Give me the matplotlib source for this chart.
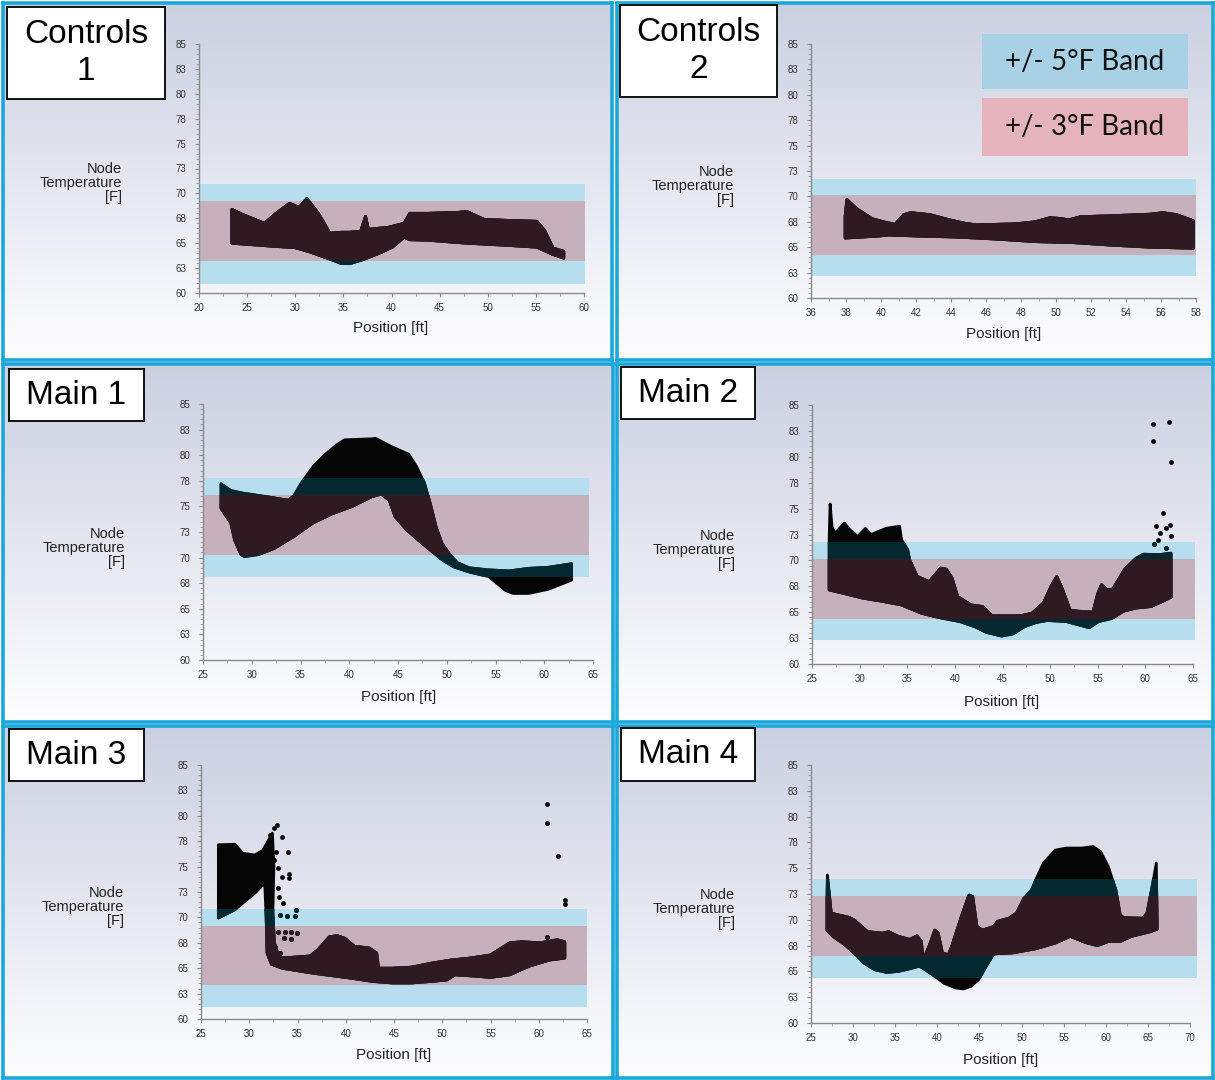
"""
Node temperature vs position for the six zones,
with the +/- 5F and +/- 3F comfort bands
"""

import numpy as np
import matplotlib.pyplot as plt
from matplotlib.patches import Rectangle

W, H = 1215, 1080

# ---- data (upper / lower edge of each point cloud) ----
titles = ["Controls\n1", "Controls\n2", "Main 1", "Main 2", "Main 3", "Main 4"]

c1_top_x = [23.4, 24.5, 26.8, 28.0, 29.4, 30.4, 31.2, 32.4, 33.6, 34.8, 35.7, 36.8, 37.3, 37.6,
            39.7, 41.3, 41.9, 43.8, 47.0, 47.8, 49.6, 51.8, 55.1, 55.9, 56.8, 57.9]
c1_top_t = [68.4, 67.9, 67.0, 68.0, 69.0, 68.6, 69.5, 68.0, 66.0, 66.1, 66.1, 66.2, 67.7, 66.4,
            66.6, 67.0, 68.0, 68.0, 68.1, 68.2, 67.4, 67.3, 67.2, 66.3, 64.5, 64.2]
c1_bot_x = [23.4, 27.6, 30.0, 31.6, 33.6, 34.8, 35.7, 36.9, 38.5, 40.1, 41.3, 41.9, 43.8, 47.8,
            51.8, 55.1, 56.7, 57.9]
c1_bot_t = [65.0, 64.7, 64.55, 64.1, 63.4, 62.95, 62.95, 63.3, 63.9, 64.6, 65.6, 65.35, 65.3, 65.0,
            64.8, 64.6, 63.9, 63.5]

c2_top_x = [37.95, 38.05, 38.6, 39.5, 40.15, 40.8, 41.3, 41.7, 42.8, 43.9, 44.8, 45.45, 47.7, 48.8,
            49.65, 50.1, 50.75, 51.4, 53.2, 55.4, 56.1, 56.9, 57.85]
c2_top_t = [68.0, 69.7, 68.8, 67.8, 67.5, 67.25, 68.2, 68.4, 68.2, 67.7, 67.35, 67.2, 67.3, 67.5,
            67.9, 67.85, 67.7, 68.0, 68.1, 68.25, 68.4, 68.2, 67.6]
c2_bot_x = [37.95, 39.9, 40.4, 42.1, 44.3, 46.6, 48.8, 51.0, 53.2, 55.4, 57.85]
c2_bot_t = [65.9, 66.1, 66.2, 66.1, 66.0, 65.8, 65.55, 65.45, 65.2, 65.0, 64.9]

m1_top_x = [26.85, 27.85, 29.05, 31.5, 33.7, 34.3, 35.1, 36.3, 37.5, 38.7, 39.5, 42.3, 42.7, 44.3,
            46.1, 46.9, 47.7, 48.3, 48.9, 49.5, 50.3, 51.1, 52.3, 54.3, 56.4, 58.4, 60.4, 62.8]
m1_top_t = [77.2, 76.55, 76.3, 75.95, 75.6, 76.0, 77.3, 78.9, 80.05, 81.0, 81.5, 81.6, 81.65, 80.85,
            80.1, 78.9, 77.3, 75.3, 73.0, 71.4, 70.3, 69.5, 69.0, 68.8, 68.7, 68.95, 69.05, 69.4]
m1_bot_x = [26.85, 27.85, 28.25, 28.9, 29.25, 30.7, 32.3, 34.3, 36.3, 38.3, 40.3, 42.3, 43.3, 44.1,
            44.7, 45.9, 47.1, 48.3, 49.5, 50.7, 52.3, 54.3, 56.0, 56.8, 58.4, 60.4, 62.8]
m1_bot_t = [74.8, 73.4, 71.7, 70.3, 70.1, 70.3, 70.9, 72.05, 73.4, 74.3, 75.0, 75.95, 76.2, 75.6,
            74.0, 72.7, 71.7, 70.75, 69.8, 69.1, 68.6, 68.15, 66.8, 66.5, 66.5, 66.9, 67.8]

m2_top_x = [26.8, 26.9, 27.1, 27.4, 28.4, 29.0, 29.8, 30.6, 31.2, 32.0, 32.8, 34.2, 34.4, 35.05,
            35.25, 36.05, 37.3, 38.5, 39.1, 39.7, 40.3, 41.7, 42.9, 43.9, 46.9, 48.1, 49.3, 50.1,
            50.7, 51.3, 52.1, 52.9, 54.5, 55.0, 55.4, 55.95, 56.55, 57.8, 59.0, 59.8, 61.4, 62.7]
m2_top_t = [72.0, 75.45, 73.3, 72.6, 73.6, 72.95, 72.3, 73.1, 72.5, 72.8, 73.1, 73.3, 72.0, 71.0,
            70.05, 68.45, 67.95, 69.25, 69.15, 68.3, 66.5, 65.7, 65.55, 64.65, 64.65, 64.9, 65.9, 67.5,
            68.45, 67.2, 65.2, 65.1, 65.0, 66.8, 67.65, 67.2, 67.2, 69.1, 70.2, 70.6, 70.55, 70.7]
m2_bot_x = [26.8, 28.4, 30.4, 32.4, 34.4, 36.5, 38.5, 40.5, 42.1, 43.3, 44.9, 46.1, 47.3, 48.5,
            49.7, 51.7, 52.9, 54.1, 55.1, 56.5, 57.7, 59.0, 60.6, 61.8, 62.7]
m2_bot_t = [67.15, 66.8, 66.35, 66.05, 65.7, 64.9, 64.45, 64.1, 63.6, 63.05, 62.7, 62.9, 63.6, 64.0,
            64.2, 64.1, 63.8, 63.5, 64.1, 64.4, 65.1, 65.4, 65.55, 66.05, 66.45]
m2_out_x = [60.8, 62.5, 60.8, 62.7, 61.8, 61.1, 61.5, 62.2, 62.6, 62.7, 60.9, 61.3, 62.2]
m2_out_t = [83.2, 83.4, 81.55, 79.5, 74.55, 73.35, 72.65, 73.15, 73.4, 72.4, 71.55, 72.0, 71.2]

m3_top_x = [26.8, 28.5, 29.35, 30.6, 31.4, 32.0, 32.4, 32.55, 32.45, 32.6, 33.0, 33.4, 36.3, 37.1,
            38.3, 39.1, 39.9, 40.9, 42.4, 43.2, 43.4, 44.8, 46.8, 48.9, 50.9, 52.9, 55.0, 57.0,
            58.2, 60.2, 61.9, 62.7]
m3_top_t = [77.15, 77.2, 76.3, 76.15, 76.6, 77.6, 78.3, 75.0, 70.5, 67.5, 66.3, 66.0, 66.2, 66.8,
            68.1, 68.2, 67.95, 67.15, 67.0, 66.5, 65.0, 65.0, 65.1, 65.5, 65.8, 66.0, 66.3, 67.5,
            67.6, 67.5, 67.8, 67.6]
m3_bot_x = [26.8, 28.5, 30.6, 31.6, 31.75, 31.85, 32.3, 33.4, 36.7, 40.7, 42.8, 44.8, 46.8, 48.9,
            50.5, 51.3, 52.9, 55.0, 57.0, 59.0, 61.1, 62.7]
m3_bot_t = [69.95, 70.75, 72.4, 73.4, 70.0, 66.5, 65.4, 65.0, 64.5, 64.0, 63.7, 63.55, 63.55, 63.7,
            63.85, 64.35, 64.25, 64.1, 64.35, 65.2, 65.8, 66.0]
m3_out_x = [60.85, 60.85, 61.95, 62.7, 62.7, 60.85, 32.9, 32.6, 32.2, 33.4, 34.0, 32.8, 32.6, 33.0,
            34.15, 34.15, 33.4, 33.0, 33.1, 33.5, 33.2, 33.9, 34.7, 34.8, 33.0, 33.7, 34.3, 33.6,
            34.3, 34.95, 32.7, 33.2]
m3_out_t = [81.15, 79.25, 76.05, 71.75, 71.3, 68.1, 79.05, 78.8, 78.1, 77.9, 76.4, 76.4, 75.65, 74.85,
            74.25, 73.9, 74.0, 72.9, 72.05, 71.45, 70.25, 70.1, 70.1, 70.7, 68.6, 68.6, 68.6, 67.95,
            67.85, 68.45, 67.1, 66.5]

m4_top_x = [26.9, 26.95, 27.2, 27.4, 28.1, 29.45, 30.1, 30.8, 31.7, 33.5, 34.2, 35.35, 36.7, 37.6,
            38.1, 38.3, 39.0, 39.7, 40.1, 40.6, 41.3, 41.7, 42.85, 43.75, 44.2, 44.7, 45.35, 46.7,
            47.15, 48.5, 49.4, 50.3, 51.2, 51.7, 52.6, 54.0, 55.3, 57.15, 58.5, 59.4, 60.3, 61.2,
            61.7, 62.1, 64.4, 64.9, 65.5, 66.0]
m4_top_t = [72.0, 74.35, 72.25, 70.65, 70.5, 70.25, 70.0, 69.5, 68.85, 68.7, 68.85, 68.4, 68.1, 68.45,
            67.9, 66.15, 67.4, 69.0, 68.7, 66.8, 66.6, 67.4, 70.3, 72.4, 72.25, 69.35, 69.0, 69.35,
            69.85, 70.15, 70.65, 72.1, 72.9, 73.9, 75.5, 76.75, 76.95, 76.95, 77.1, 76.6, 75.15, 72.9,
            70.5, 70.2, 70.15, 70.65, 73.2, 75.5]
m4_bot_x = [26.9, 27.6, 29.0, 30.1, 31.3, 32.6, 34.0, 35.35, 36.7, 37.85, 38.3, 39.4, 40.8, 42.15,
            43.1, 44.0, 44.9, 45.8, 46.7, 48.95, 51.7, 54.0, 55.8, 57.6, 59.0, 60.3, 61.7, 63.05,
            65.3, 66.1]
m4_bot_t = [69.0, 68.4, 67.6, 66.8, 65.8, 65.15, 64.9, 65.0, 65.25, 65.5, 65.3, 64.7, 63.85, 63.4,
            63.3, 63.55, 64.2, 65.5, 66.7, 66.8, 67.2, 67.75, 68.4, 67.8, 67.5, 67.9, 67.9, 68.4,
            68.85, 69.1]

# band edges (5F band low/high, 3F band low/high) and where the bands end
band5 = [(60.95, 70.9), (62.2, 71.75), (68.1, 77.8), (62.3, 71.8), (61.2, 70.85), (64.4, 73.95)]
band3 = [(63.2, 69.2), (64.25, 70.15), (70.25, 76.1), (64.35, 70.1), (63.3, 69.15), (66.5, 72.3)]
band_end = [60.1, 58.0, 64.6, 65.2, 65.0, 70.8]

x_limits = [(20, 60), (36, 58), (25, 65), (25, 65), (25, 65), (25, 70)]
x_major = [5, 2, 5, 5, 5, 5]
x_minor = [2.5, 1, 2.5, 2.5, 2.5, 2.5]
y_ticks = [60, 62.5, 65, 67.5, 70, 72.5, 75, 77.5, 80, 82.5, 85]
y_tick_labels = ["60", "63", "65", "68", "70", "73", "75", "78", "80", "83", "85"]

legend_labels = ["+/- 5°F Band", "+/- 3°F Band"]

# ---- layout in pixels (x0, y0, x1, y1, measured from top-left) ----
panel_px = [(3, 3, 612, 360), (617, 3, 1213, 360), (3, 364, 613, 722),
            (617, 364, 1213, 722), (3, 726, 613, 1078), (617, 726, 1213, 1078)]
axes_px = [(199, 44, 584, 293), (811, 44, 1196, 298), (203, 404, 593, 660),
           (812, 405, 1193, 664), (201, 765, 587, 1019), (811, 765, 1190, 1023)]
title_px = [(7, 7, 165, 99), (620, 5, 777, 97), (9, 369, 144, 421),
            (621, 367, 755, 419), (9, 729, 144, 781), (621, 728, 755, 781)]
ylab_px = [(122, 183), (734, 186), (125, 548), (735, 550), (124, 907), (735, 909)]
xlab_px = [(391, 328), (1004, 334), (399, 697), (1002, 702), (394, 1055), (1001, 1060)]

BORDER = "#1aa7da"
BLUE_BAND = "#b6deee"
PINK_BAND = "#c6b0bc"
DOT_OUT = "#050505"
DOT_BLUE = "#03282f"
DOT_PINK = "#2e1a20"


def fig_rect(box):
    x0, y0, x1, y1 = box
    return [x0 / W, 1 - y1 / H, (x1 - x0) / W, (y1 - y0) / H]


def fxy(x, y):
    return x / W, 1 - y / H


def draw_cloud(ax, top_x, top_t, bot_x, bot_t, b5, b3, x0, x1, out_x=None, out_t=None):
    """Black cloud, tinted where the bands sit on top of it."""
    px = list(top_x) + list(bot_x)[::-1]
    py = list(top_t) + list(bot_t)[::-1]
    clips = [None,
             Rectangle((x0, b5[0]), x1 - x0, b5[1] - b5[0], transform=ax.transData),
             Rectangle((x0, b3[0]), x1 - x0, b3[1] - b3[0], transform=ax.transData)]
    for clip, col, z in zip(clips, [DOT_OUT, DOT_BLUE, DOT_PINK], [3, 4, 5]):
        # thick round edge stands in for the dot radius of the scatter
        poly = ax.fill(px, py, color=col, lw=2.0, ec=col, joinstyle="round", zorder=z)[0]
        if clip is not None:
            poly.set_clip_path(clip)
        if out_x is not None:
            sc = ax.scatter(out_x, out_t, s=12, color=col, lw=0, zorder=z)
            if clip is not None:
                sc.set_clip_path(clip)


clouds = [
    (c1_top_x, c1_top_t, c1_bot_x, c1_bot_t, None, None),
    (c2_top_x, c2_top_t, c2_bot_x, c2_bot_t, None, None),
    (m1_top_x, m1_top_t, m1_bot_x, m1_bot_t, None, None),
    (m2_top_x, m2_top_t, m2_bot_x, m2_bot_t, m2_out_x, m2_out_t),
    (m3_top_x, m3_top_t, m3_bot_x, m3_bot_t, m3_out_x, m3_out_t),
    (m4_top_x, m4_top_t, m4_bot_x, m4_bot_t, None, None),
]

plt.rcParams["font.family"] = ["Liberation Sans", "DejaVu Sans"]
fig = plt.figure(figsize=(W / 100, H / 100), dpi=100)
fig.patch.set_facecolor("white")

grad = np.linspace(0, 1, 256)[:, None, None]
top_col = np.array([0.796, 0.816, 0.882])
bot_col = np.array([0.995, 0.995, 1.0])
grad_img = top_col * (1 - grad) + bot_col * grad

for i in range(6):
    # panel background + cyan frame
    bg = fig.add_axes(fig_rect(panel_px[i]))
    bg.imshow(grad_img, aspect="auto", extent=[0, 1, 0, 1], interpolation="bilinear")
    bg.set_xticks([])
    bg.set_yticks([])
    for s in bg.spines.values():
        s.set_color(BORDER)
        s.set_linewidth(2.6)

    ax = fig.add_axes(fig_rect(axes_px[i]))
    ax.set_facecolor("none")
    xa, xb = x_limits[i]
    b5, b3 = band5[i], band3[i]

    # bands
    ax.fill_between([xa, band_end[i]], b5[0], b5[1], color=BLUE_BAND, lw=0, zorder=1, clip_on=False)
    ax.fill_between([xa, band_end[i]], b3[0], b3[1], color=PINK_BAND, lw=0, zorder=2, clip_on=False)

    tx, tt, bx, bt, ox, ot = clouds[i]
    draw_cloud(ax, tx, tt, bx, bt, b5, b3, xa, band_end[i], ox, ot)

    ax.set_xlim(xa, xb)
    ax.set_ylim(60, 85)
    ax.set_xticks(np.arange(xa, xb + 0.01, x_major[i]))
    ax.set_xticks(np.arange(xa, xb + 0.01, x_minor[i]), minor=True)
    ax.set_yticks(y_ticks)
    ax.set_yticklabels(y_tick_labels)
    ax.set_yticks(np.arange(60, 85.01, 0.5), minor=True)
    for s in ["top", "right"]:
        ax.spines[s].set_visible(False)
    for s in ["left", "bottom"]:
        ax.spines[s].set_color("#8a8a8a")
        ax.spines[s].set_linewidth(1.0)
        ax.spines[s].set_zorder(6)
    ax.tick_params(axis="both", which="major", length=3, width=0.8, color="#8a8a8a",
                   labelsize=7, labelcolor="#333333")
    ax.tick_params(axis="both", which="minor", length=2, width=0.6, color="#9a9a9a")
    ax.tick_params(axis="y", which="major", pad=6)
    ax.tick_params(axis="x", which="major", pad=4.5)

    # axis titles
    fig.text(*fxy(*ylab_px[i]), "Node\nTemperature\n[F]", ha="right", va="center",
             fontsize=10.5, linespacing=0.98, color="#222222")
    fig.text(*fxy(*xlab_px[i]), "Position [ft]", ha="center", va="center",
             fontsize=11, color="#222222")

    # title box
    tb = fig.add_axes(fig_rect(title_px[i]))
    tb.set_facecolor("white")
    tb.set_xticks([])
    tb.set_yticks([])
    for s in tb.spines.values():
        s.set_color("black")
        s.set_linewidth(1.3)
    tb.text(0.5, 0.5, titles[i], ha="center", va="center", fontsize=24,
            transform=tb.transAxes, linespacing=1.22)

# legend boxes inside Controls 2
leg_boxes = [(982, 34, 1188, 89), (982, 98, 1188, 156)]
leg_cols = ["#a9d1e5", "#e4b3bb"]
for box, col, lab in zip(leg_boxes, leg_cols, legend_labels):
    r = fig_rect(box)
    fig.add_artist(Rectangle((r[0], r[1]), r[2], r[3], transform=fig.transFigure,
                             facecolor=col, edgecolor="none", zorder=10))
    cx, cy = fxy((box[0] + box[2]) / 2, (box[1] + box[3]) / 2)
    fig.text(cx, cy, lab, ha="center", va="center", fontsize=20, family=["Lato", "DejaVu Sans"],
             color="#111111", zorder=11)

plt.savefig("out.png", dpi=100)
